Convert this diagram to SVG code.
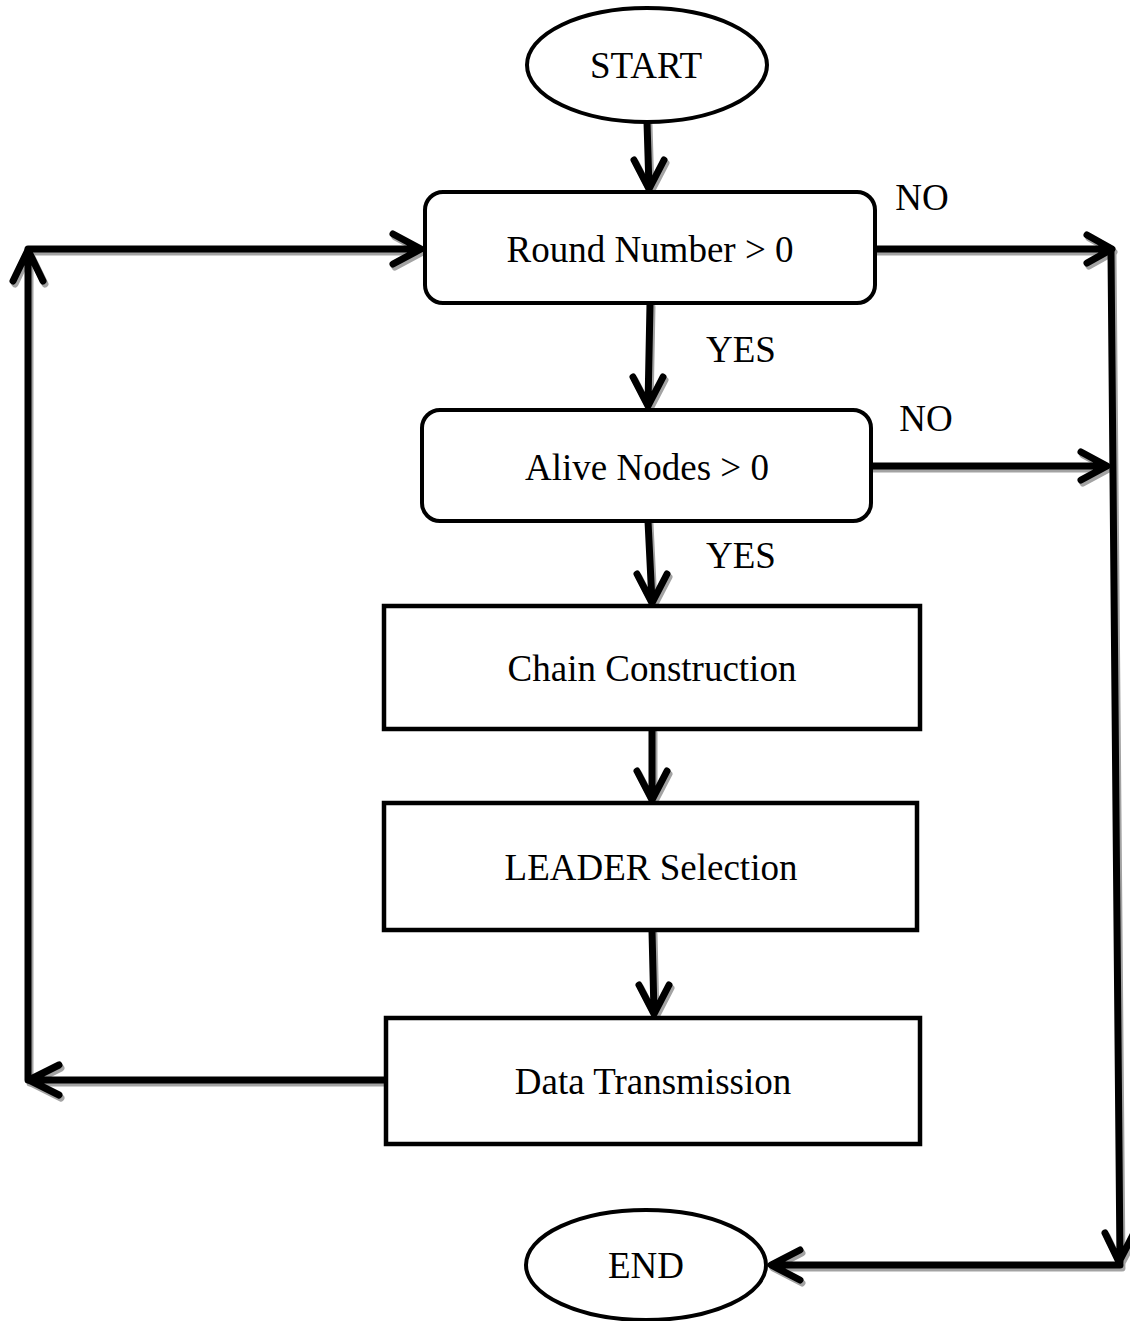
<svg xmlns="http://www.w3.org/2000/svg" xmlns:xlink="http://www.w3.org/1999/xlink" width="1130" height="1321" viewBox="0 0 1130 1321">
  <style>
    .lbl { font-family: "Liberation Serif", "Times New Roman", serif; font-size: 37px; fill: #000; text-anchor: middle; }
    .shape { fill: #fff; stroke: #000; stroke-width: 4; }
    .box { fill: #fff; stroke: #000; stroke-width: 4.5; }
    .wire { fill: none; stroke-width: 7; stroke-linecap: round; stroke-linejoin: round; }
    .shadow { stroke: #a3a3a3; }
    .ink { stroke: #000; }
  </style>
  <defs>
    <!-- connector geometry: shaft plus open chevron head -->
    <path id="c1" d="M647,122 L649,188 M634,160 L649,189 L664,160"/>
    <path id="c2" d="M874,249 L1111,249 M1087,235 L1112,249 L1087,263"/>
    <path id="c3" d="M1111,252 L1120,1262 M1105,1233 L1119,1262 L1134,1233"/>
    <path id="c4" d="M1120,1265 L772,1265 M800,1250 L771,1265 L800,1280"/>
    <path id="c5" d="M650,304 L648,405 M633,377 L648,406 L663,377"/>
    <path id="c6" d="M871,466 L1106,466 M1081,452 L1107,466 L1081,480"/>
    <path id="c7" d="M648,521 L652,602 M637,574 L652,603 L667,574"/>
    <path id="c8" d="M652,730 L652,799 M637,771 L652,800 L667,771"/>
    <path id="c9" d="M652,931 L654,1013 M639,985 L654,1014 L669,985"/>
    <path id="c10" d="M386,1080 L30,1080 M59,1065 L29,1080 L59,1095"/>
    <path id="c11" d="M28,1080 L28,251 M13,281 L28,250 L43,281"/>
    <path id="c12" d="M28,249 L420,249 M393,234 L421,249 L393,264"/>
  </defs>

  <g id="connectors">
    <g class="wire shadow" transform="translate(2,3)">
      <use xlink:href="#c1"/><use xlink:href="#c2"/><use xlink:href="#c3"/>
      <use xlink:href="#c4"/><use xlink:href="#c5"/><use xlink:href="#c6"/>
      <use xlink:href="#c7"/><use xlink:href="#c8"/><use xlink:href="#c9"/>
      <use xlink:href="#c10"/><use xlink:href="#c11"/><use xlink:href="#c12"/>
    </g>
    <g class="wire ink">
      <use xlink:href="#c1"/><use xlink:href="#c2"/><use xlink:href="#c3"/>
      <use xlink:href="#c4"/><use xlink:href="#c5"/><use xlink:href="#c6"/>
      <use xlink:href="#c7"/><use xlink:href="#c8"/><use xlink:href="#c9"/>
      <use xlink:href="#c10"/><use xlink:href="#c11"/><use xlink:href="#c12"/>
    </g>
    <text class="lbl" x="922" y="210">NO</text>
    <text class="lbl" x="926" y="431">NO</text>
    <text class="lbl" x="741" y="362">YES</text>
    <text class="lbl" x="741" y="568">YES</text>
  </g>

  <g id="start">
    <ellipse class="shape" cx="647" cy="65" rx="120" ry="57"/>
    <text class="lbl" x="646" y="78">START</text>
  </g>

  <g id="round-check">
    <rect class="shape" x="425" y="192" width="450" height="111" rx="18"/>
    <text class="lbl" x="650" y="262">Round Number &gt; 0</text>
  </g>

  <g id="alive-check">
    <rect class="shape" x="422" y="410" width="449" height="111" rx="18"/>
    <text class="lbl" x="647" y="480">Alive Nodes &gt; 0</text>
  </g>

  <g id="chain">
    <rect class="box" x="384" y="606" width="536" height="123"/>
    <text class="lbl" x="652" y="681">Chain Construction</text>
  </g>

  <g id="leader">
    <rect class="box" x="384" y="803" width="533" height="127"/>
    <text class="lbl" x="651" y="880">LEADER Selection</text>
  </g>

  <g id="data">
    <rect class="box" x="386" y="1018" width="534" height="126"/>
    <text class="lbl" x="653" y="1094">Data Transmission</text>
  </g>

  <g id="end">
    <ellipse class="shape" cx="646" cy="1265" rx="120" ry="55"/>
    <text class="lbl" x="646" y="1278">END</text>
  </g>
</svg>
